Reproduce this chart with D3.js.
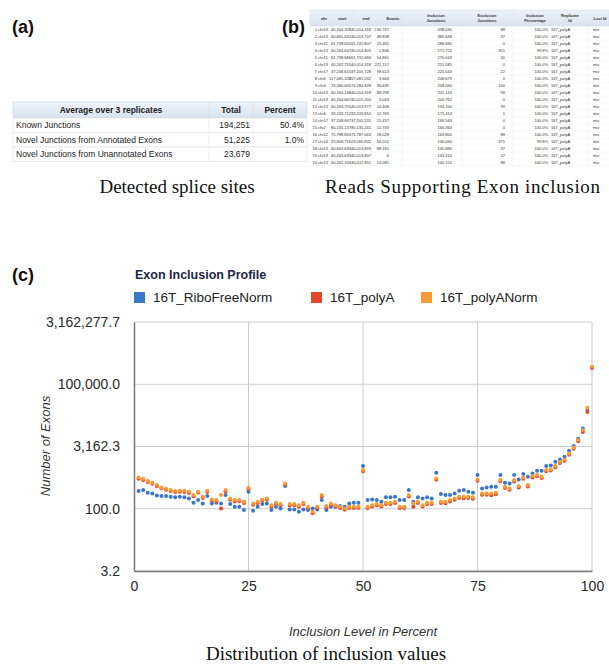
<!DOCTYPE html>
<html>
<head>
<meta charset="utf-8">
<script src="https://cdn.jsdelivr.net/npm/d3@7"></script>
<style>
  body { margin: 0; background: #fff; }
  svg { display: block; }
</style>
</head>
<body>
<div id="chart"></div>
<script>
// ---- panel (a): detected splice sites ----
const junctionTypes = ['Known Junctions', 'Novel Junctions from Annotated Exons', 'Novel Junctions from Unannotated Exons']
const junctionTotals = ['194,251', '51,225', '23,679']
const junctionPercents = ['50.4%', '1.0%', '']

// ---- panel (b): reads supporting exon inclusion ----
const tblHeaders = ['chr', 'start', 'end', 'Exonic', 'Inclusion|Junctions', 'Exclusion|Junctions', 'Inclusion|Percentage', 'Replicate|Id', 'Loci Id']
const tblChr = ['chr13', 'chr13', 'chr11', 'chr13', 'chr11', 'chr13', 'chr17', 'chr6', 'chr4', 'chr13', 'chr13', 'chr13', 'chr6', 'chr17', 'chr2', 'chr12', 'chr14', 'chr13', 'chr13', 'chr13']
const tblStart = ['40,264,328', '40,665,632', '61,738,641', '40,264,647', '61,738,686', '40,262,755', '37,208,615', '117,085,328', '74,280,605', '40,264,148', '40,264,667', '40,263,755', '33,243,712', '37,208,667', '80,135,137', '75,788,863', '23,808,716', '40,663,633', '40,263,633', '40,262,328']
const tblEnd = ['40,014,318', '40,013,707', '61,742,807', '40,014,805', '61,732,684', '40,014,318', '37,205,728', '117,081,032', '74,284,828', '40,014,318', '40,015,200', '40,013,977', '33,243,810', '37,205,555', '80,135,241', '75,787,063', '23,090,832', '40,013,693', '40,013,807', '40,012,811']
const tblExonic = ['130,767', '48,838', '25,465', '1,846', '54,861', '221,157', '98,613', '3,664', '36,639', '88,298', '6,063', '14,408', '12,769', '15,457', '12,743', '18,028', '56,552', '88,161', '6', '14,081']
const tblIncl = ['438,030', '385,648', '286,680', '272,722', '270,043', '251,585', '225,043', '208,679', '208,060', '201,143', '200,762', '194,100', '171,413', '166,563', '166,364', '163,800', '146,060', '145,880', '143,216', '140,151']
const tblExcl = ['88', '37', '0', '351', '30', '0', '22', '0', '100', '98', '0', '39', '1', '0', '0', '88', '371', '37', '27', '88']
const tblPct = ['100.0%', '100.0%', '100.0%', '99.8%', '100.0%', '100.0%', '100.0%', '100.0%', '100.0%', '100.0%', '100.0%', '100.0%', '100.0%', '100.0%', '100.0%', '100.0%', '99.8%', '100.0%', '100.0%', '100.0%']
const tblReplicate = '16T_polyA'
const tblLoci = 'mix'

// ---- panel (c): exon inclusion profile ----
const seriesNames = ['16T_RiboFreeNorm', '16T_polyA', '16T_polyANorm']
const seriesColors = ['#3b76c8', '#e5452b', '#f99a32']
const inclusionLevels = d3.range(1, 101)
const riboFreeNorm = [
  267, 282, 243, 234, 210, 202, 202, 195, 188, 195,
  188, 177, 140, 162, 134, 202, 134, 140, 134, 213,
  130, 112, 112, 93, 257, 90, 112, 130, 134, 93,
  112, 102, 352, 96, 96, 85, 96, 93, 102, 96,
  162, 93, 112, 112, 116, 112, 134, 140, 140, 1067,
  162, 168, 162, 147, 188, 188, 195, 162, 162, 282,
  147, 188, 177, 188, 177, 736, 226, 213, 213, 234,
  272, 282, 257, 243, 647, 309, 327, 339, 339, 647,
  423, 408, 647, 509, 684, 590, 710, 824, 824, 1067,
  1107, 1358, 1545, 1791, 2498, 3236, 4864, 8630, 23880, 250000
]
const polyA = [
  530, 495, 440, 400, 350, 310, 288, 268, 252, 258,
  255, 240, 200, 242, 182, 255, 158, 150, 102, 262,
  165, 150, 152, 138, 300, 125, 138, 158, 165, 113,
  130, 121, 385, 120, 122, 112, 131, 104, 78, 104,
  198, 108, 125, 113, 104, 95, 104, 104, 105, 800,
  104, 113, 122, 113, 131, 130, 137, 104, 104, 198,
  112, 137, 113, 131, 130, 500, 137, 136, 150, 165,
  182, 180, 182, 175, 475, 218, 216, 212, 225, 458,
  316, 288, 456, 325, 530, 345, 570, 605, 548, 800,
  830, 1000, 1270, 1440, 2010, 2800, 4250, 7100, 21500, 250000
]
const polyANorm = [
  569, 528, 464, 423, 372, 327, 303, 282, 267, 272,
  272, 257, 213, 257, 195, 272, 168, 162, 213, 282,
  177, 162, 162, 147, 321, 134, 147, 168, 177, 122,
  140, 130, 408, 130, 130, 122, 140, 112, 85, 112,
  213, 116, 134, 122, 112, 102, 112, 112, 112, 855,
  112, 122, 130, 122, 140, 140, 147, 112, 112, 213,
  134, 147, 122, 140, 140, 538, 147, 147, 162, 177,
  195, 195, 195, 188, 509, 234, 234, 234, 243, 491,
  339, 309, 491, 352, 569, 372, 612, 647, 590, 855,
  887, 1067, 1358, 1545, 2154, 3006, 4519, 7870, 27160, 264000
]
const yTickValues = [3.16228, 100, 3162.28, 100000, 3162277.7]
const xTickValues = [0, 25, 50, 75, 100]

const W = 609, H = 664
const sans = 'Liberation Sans, Arial, sans-serif'
const serif = 'Liberation Serif, Times New Roman, serif'

const svg = d3.select('#chart').append('svg')
  .attr('width', W).attr('height', H)
  .attr('viewBox', [0, 0, W, H])

const defs = svg.append('defs')
const grad = defs.append('linearGradient').attr('id', 'hdr').attr('x1', 0).attr('x2', 0).attr('y1', 0).attr('y2', 1)
grad.append('stop').attr('offset', '0%').attr('stop-color', '#eef3fa')
grad.append('stop').attr('offset', '100%').attr('stop-color', '#d9e3f0')

// panel labels
const labels = [['(a)', 12, 33], ['(b)', 282, 33], ['(c)', 12, 281]]
svg.selectAll('text.plabel').data(labels).join('text')
  .attr('class', 'plabel')
  .attr('x', d => d[1]).attr('y', d => d[2])
  .attr('font-family', sans).attr('font-weight', 'bold').attr('font-size', 18)
  .attr('fill', '#111')
  .text(d => d[0])

// ===== panel (a) table =====
const ta = svg.append('g')
const colA = [13, 209, 253, 307]
const headA = ['Average over 3 replicates', 'Total', 'Percent']
const rowH = 14.5
const headTop = 102, headBot = 118
ta.append('rect').attr('x', colA[0]).attr('y', headTop).attr('width', colA[3] - colA[0]).attr('height', headBot - headTop)
  .attr('fill', 'url(#hdr)').attr('stroke', '#c9d2de').attr('stroke-width', 0.6)
ta.selectAll('text.h').data(headA).join('text')
  .attr('x', (d, i) => (colA[i] + colA[i + 1]) / 2).attr('y', headTop + 11)
  .attr('text-anchor', 'middle')
  .attr('font-family', sans).attr('font-size', 8.5).attr('font-weight', 'bold').attr('fill', '#222')
  .text(d => d)
const rowsA = ta.selectAll('g.r').data(junctionTypes).join('g')
  .attr('transform', (d, i) => `translate(0,${headBot + i * rowH})`)
rowsA.append('rect').attr('x', colA[0]).attr('width', colA[3] - colA[0]).attr('height', rowH)
  .attr('fill', '#fff').attr('stroke', '#e0e0e0').attr('stroke-width', 0.6)
rowsA.append('text').attr('x', colA[0] + 3).attr('y', 10)
  .attr('font-family', sans).attr('font-size', 8.5).attr('fill', '#222')
  .text(d => d)
rowsA.append('text').attr('x', colA[2] - 3).attr('y', 10).attr('text-anchor', 'end')
  .attr('font-family', sans).attr('font-size', 8.5).attr('fill', '#222')
  .text((d, i) => junctionTotals[i])
rowsA.append('text').attr('x', colA[3] - 3).attr('y', 10).attr('text-anchor', 'end')
  .attr('font-family', sans).attr('font-size', 8.5).attr('fill', '#222')
  .text((d, i) => junctionPercents[i])
ta.selectAll('line.v').data([colA[1], colA[2]]).join('line')
  .attr('x1', d => d).attr('x2', d => d).attr('y1', headTop).attr('y2', headBot + 3 * rowH)
  .attr('stroke', '#e0e0e0').attr('stroke-width', 0.6)

svg.append('text').attr('x', 177).attr('y', 193).attr('text-anchor', 'middle')
  .attr('font-family', serif).attr('font-size', 19).attr('fill', '#111')
  .text('Detected splice sites')

// ===== panel (b) table =====
const tb = svg.append('g')
const bCols = [
  { x: 336, hx: 324 }, // chr (index + name)
  { x: 351, hx: 342 },
  { x: 371, hx: 366 },
  { x: 389, hx: 393 },
  { x: 452, hx: 436 },
  { x: 505, hx: 487 },
  { x: 548, hx: 535 },
  { x: 551, hx: 570 },
  { x: 593, hx: 600 }
]
const bTop = 10, bHead = 26, bRow = 7
tb.append('rect').attr('x', 310).attr('y', bTop).attr('width', W - 310).attr('height', bHead - bTop)
  .attr('fill', 'url(#hdr)').attr('stroke', '#d0d7e2').attr('stroke-width', 0.4)
tb.selectAll('line.vb').data([332, 352, 372, 402, 462, 512, 560, 588]).join('line')
  .attr('x1', d => d).attr('x2', d => d).attr('y1', bTop).attr('y2', bHead + 20 * bRow)
  .attr('stroke', '#e6e6e6').attr('stroke-width', 0.4)
tb.selectAll('line.hb').data(d3.range(21)).join('line')
  .attr('x1', 310).attr('x2', W).attr('y1', d => bHead + d * bRow).attr('y2', d => bHead + d * bRow)
  .attr('stroke', '#ececec').attr('stroke-width', 0.4)
tblHeaders.forEach((h, i) => {
  const parts = h.split('|')
  const t = tb.append('text').attr('x', bCols[i].hx).attr('text-anchor', 'middle')
    .attr('font-family', sans).attr('font-size', 4).attr('font-weight', 'bold').attr('fill', '#333')
  parts.forEach((p, k) => t.append('tspan').attr('x', bCols[i].hx)
    .attr('y', parts.length === 1 ? 20 : 17 + k * 5).text(p))
})
const bRows = tb.selectAll('g.br').data(tblChr).join('g')
  .attr('transform', (d, i) => `translate(0,${bHead + i * bRow + 5})`)
  .attr('font-family', sans).attr('font-size', 4).attr('fill', '#333')
bRows.append('text').attr('x', 317).attr('text-anchor', 'end').text((d, i) => i + 1)
bRows.append('text').attr('x', 318).text(d => d)
const bVals = [tblStart, tblEnd, tblExonic, tblIncl, tblExcl, tblPct]
bVals.forEach((arr, c) => {
  bRows.append('text').attr('x', bCols[c + 1].x).attr('text-anchor', 'end').text((d, i) => arr[i])
})
bRows.append('text').attr('x', bCols[7].x).text(tblReplicate)
bRows.append('text').attr('x', bCols[8].x).text(tblLoci)

svg.append('text').attr('x', 325).attr('y', 193)
  .attr('font-family', serif).attr('font-size', 19).attr('fill', '#111')
  .attr('textLength', 275).attr('lengthAdjust', 'spacing')
  .text('Reads Supporting Exon inclusion')

// ===== panel (c) scatter =====
const x = d3.scaleLinear().domain([0, 100]).range([134, 592])
const y = d3.scaleLog().domain([3.16228, 3162277.7]).range([571, 322])
const fmt = d3.format(',.1f')

svg.append('text').attr('x', 135).attr('y', 279)
  .attr('font-family', sans).attr('font-weight', 'bold').attr('font-size', 12.5)
  .attr('fill', '#1c2840')
  .text('Exon Inclusion Profile')

const legendX = [134, 311, 421]
const lg = svg.append('g').selectAll('g').data(seriesNames).join('g')
  .attr('transform', (d, i) => `translate(${legendX[i]},292)`)
lg.append('rect').attr('width', 11).attr('height', 11).attr('fill', (d, i) => seriesColors[i])
lg.append('text').attr('x', 19).attr('y', 10)
  .attr('font-family', sans).attr('font-size', 13.5).attr('fill', '#222')
  .text(d => d)

// gridlines
const grid = svg.append('g')
grid.selectAll('line.gy').data(yTickValues).join('line')
  .attr('x1', x(0)).attr('x2', x(100)).attr('y1', d => y(d)).attr('y2', d => y(d))
  .attr('stroke', '#cccccc').attr('stroke-width', 1)
grid.selectAll('line.gx').data(xTickValues.slice(1)).join('line')
  .attr('x1', d => x(d)).attr('x2', d => x(d)).attr('y1', y(3162277.7)).attr('y2', y(3.16228))
  .attr('stroke', '#cccccc').attr('stroke-width', 1)

// axes
const yAxis = svg.append('g').attr('transform', `translate(${x(0)},0)`)
  .call(d3.axisLeft(y).tickValues(yTickValues).tickFormat(fmt).tickSize(0).tickPadding(14))
yAxis.select('.domain').attr('stroke', '#777').attr('stroke-width', 1.5)
yAxis.selectAll('text').attr('font-family', sans).attr('font-size', 14).attr('fill', '#2a2a2a')

const xAxis = svg.append('g').attr('transform', `translate(0,${y(3.16228)})`)
  .call(d3.axisBottom(x).tickValues(xTickValues).tickFormat(d3.format('d')).tickSize(0).tickPadding(10))
xAxis.select('.domain').attr('stroke', '#777').attr('stroke-width', 1.5)
xAxis.selectAll('text').attr('font-family', sans).attr('font-size', 14).attr('fill', '#2a2a2a')

svg.append('text').attr('x', 363).attr('y', 636).attr('text-anchor', 'middle')
  .attr('font-family', sans).attr('font-style', 'italic').attr('font-size', 13).attr('fill', '#333')
  .text('Inclusion Level in Percent')
svg.append('text').attr('transform', 'translate(50,446) rotate(-90)').attr('text-anchor', 'middle')
  .attr('font-family', sans).attr('font-style', 'italic').attr('font-size', 13).attr('fill', '#333')
  .text('Number of Exons')

// points: blue, red, then orange on top
const allSeries = [riboFreeNorm, polyA, polyANorm]
allSeries.forEach((vals, s) => {
  svg.append('g').selectAll('circle').data(inclusionLevels).join('circle')
    .attr('cx', d => x(d))
    .attr('cy', (d, i) => y(vals[i]))
    .attr('r', 2)
    .attr('fill', seriesColors[s])
})

svg.append('text').attr('x', 326).attr('y', 660).attr('text-anchor', 'middle')
  .attr('font-family', serif).attr('font-size', 19).attr('fill', '#111')
  .text('Distribution of inclusion values')
</script>
</body>
</html>
